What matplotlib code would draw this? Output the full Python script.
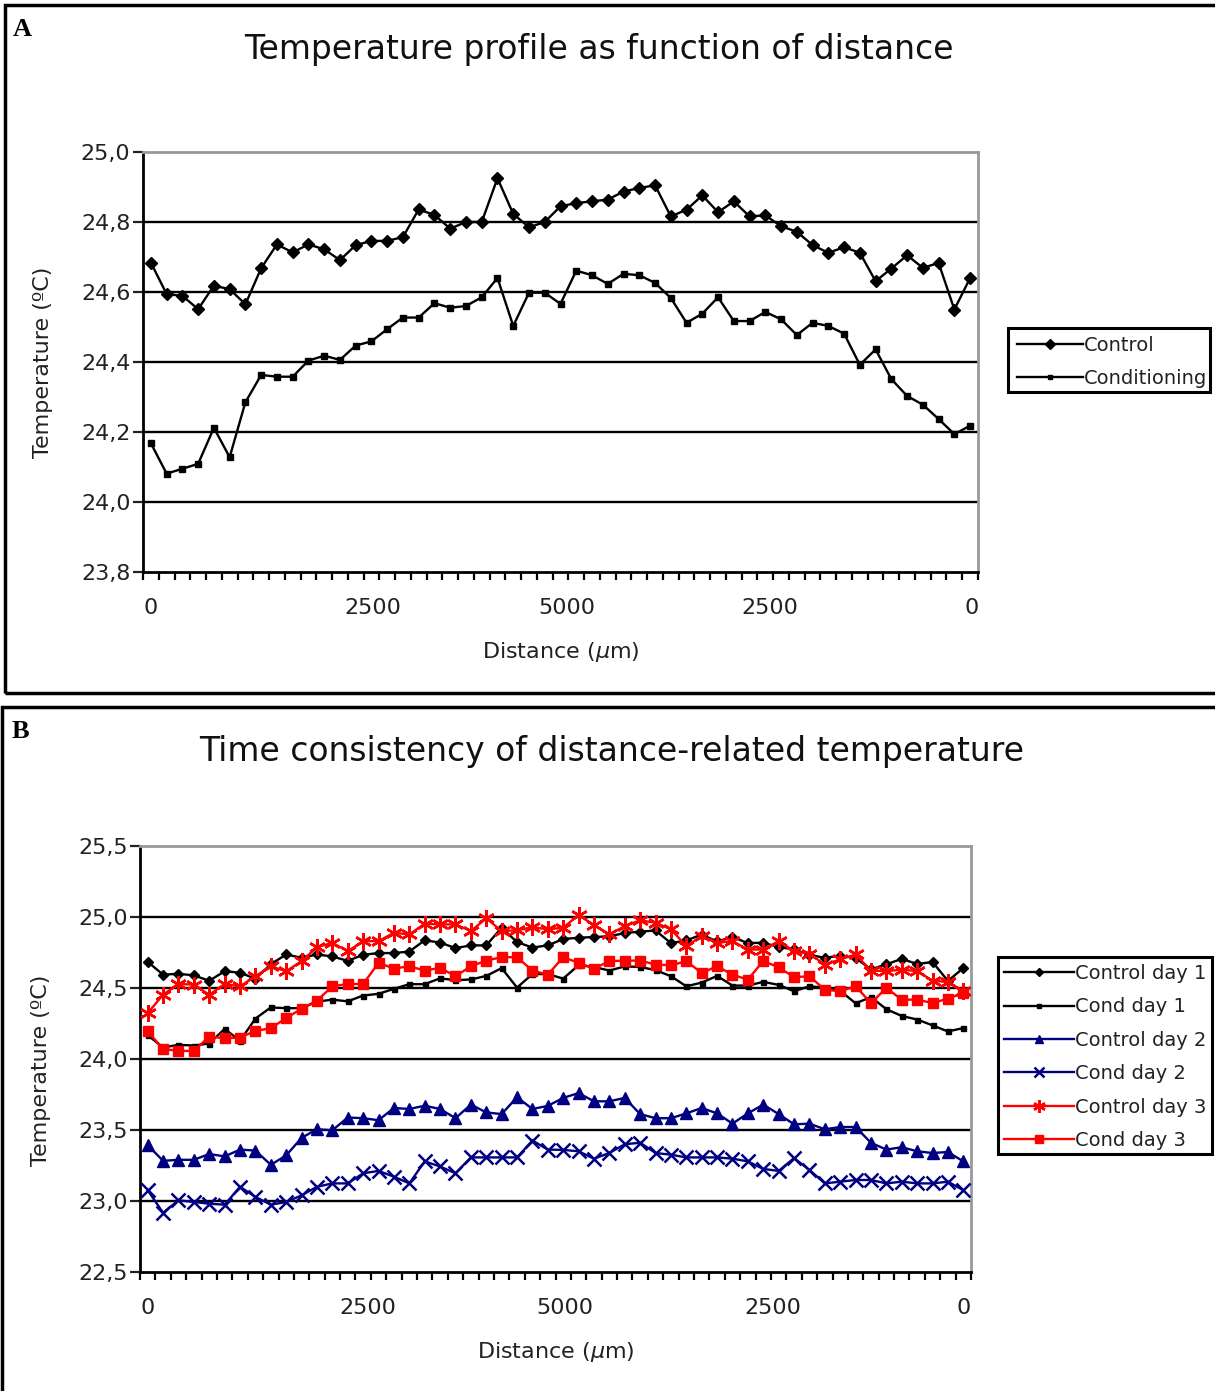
import numpy as np
import matplotlib
matplotlib.use("Agg")
import matplotlib.pyplot as plt
from matplotlib.patches import Rectangle

# ---------------- data ----------------
a_control = [24.684, 24.594, 24.589, 24.551, 24.618, 24.608, 24.565, 24.668, 24.736, 24.713,
             24.736, 24.722, 24.691, 24.734, 24.746, 24.746, 24.757, 24.836, 24.820, 24.781,
             24.800, 24.800, 24.925, 24.823, 24.785, 24.800, 24.845, 24.854, 24.859, 24.864,
             24.887, 24.897, 24.905, 24.816, 24.835, 24.876, 24.828, 24.859, 24.816, 24.819,
             24.788, 24.772, 24.734, 24.712, 24.728, 24.712, 24.631, 24.667, 24.705, 24.669,
             24.683, 24.550, 24.640]
a_cond = [24.168, 24.081, 24.095, 24.109, 24.212, 24.128, 24.285, 24.363, 24.358, 24.358,
          24.404, 24.418, 24.406, 24.447, 24.459, 24.494, 24.527, 24.527, 24.568, 24.555,
          24.560, 24.585, 24.640, 24.503, 24.598, 24.598, 24.566, 24.661, 24.648, 24.623,
          24.652, 24.648, 24.626, 24.583, 24.512, 24.538, 24.585, 24.517, 24.517, 24.543,
          24.522, 24.477, 24.512, 24.503, 24.481, 24.392, 24.436, 24.351, 24.303, 24.278,
          24.237, 24.194, 24.218]

b_control1 = [24.684, 24.594, 24.600, 24.589, 24.551, 24.618, 24.608, 24.565, 24.668, 24.736,
              24.713, 24.736, 24.722, 24.691, 24.734, 24.746, 24.746, 24.757, 24.836, 24.820,
              24.781, 24.800, 24.800, 24.925, 24.823, 24.785, 24.800, 24.845, 24.854, 24.859,
              24.864, 24.887, 24.897, 24.905, 24.816, 24.835, 24.876, 24.828, 24.859, 24.816,
              24.819, 24.788, 24.772, 24.734, 24.712, 24.728, 24.712, 24.631, 24.667, 24.705,
              24.669, 24.683, 24.550, 24.640]
b_cond1 = [24.168, 24.081, 24.100, 24.095, 24.109, 24.212, 24.128, 24.285, 24.363, 24.358,
           24.358, 24.404, 24.418, 24.406, 24.447, 24.459, 24.494, 24.527, 24.527, 24.568,
           24.555, 24.560, 24.585, 24.640, 24.503, 24.598, 24.598, 24.566, 24.661, 24.648,
           24.623, 24.652, 24.648, 24.626, 24.583, 24.512, 24.538, 24.585, 24.517, 24.517,
           24.543, 24.522, 24.477, 24.512, 24.503, 24.481, 24.392, 24.436, 24.351, 24.303,
           24.278, 24.237, 24.194, 24.218]
b_control2 = [23.393, 23.283, 23.290, 23.290, 23.331, 23.314, 23.362, 23.355, 23.255, 23.321,
              23.445, 23.505, 23.498, 23.588, 23.583, 23.569, 23.655, 23.648, 23.671, 23.648,
              23.583, 23.679, 23.624, 23.612, 23.731, 23.648, 23.670, 23.726, 23.760, 23.702,
              23.702, 23.726, 23.612, 23.583, 23.583, 23.617, 23.655, 23.617, 23.545, 23.617,
              23.679, 23.612, 23.540, 23.545, 23.505, 23.521, 23.521, 23.410, 23.362, 23.379,
              23.350, 23.338, 23.345, 23.279]
b_cond2 = [23.076, 22.917, 23.005, 22.993, 22.981, 22.974, 23.100, 23.029, 22.974, 22.993,
           23.040, 23.100, 23.124, 23.124, 23.195, 23.212, 23.171, 23.124, 23.279, 23.243,
           23.195, 23.307, 23.307, 23.307, 23.307, 23.426, 23.362, 23.360, 23.350, 23.298,
           23.338, 23.400, 23.410, 23.338, 23.326, 23.307, 23.307, 23.307, 23.298, 23.279,
           23.226, 23.212, 23.302, 23.219, 23.124, 23.136, 23.148, 23.148, 23.124, 23.136,
           23.124, 23.124, 23.136, 23.076]
b_control3 = [24.323, 24.453, 24.528, 24.524, 24.453, 24.528, 24.512, 24.583, 24.653, 24.618,
              24.689, 24.788, 24.818, 24.759, 24.830, 24.830, 24.889, 24.877, 24.953, 24.948,
              24.948, 24.901, 24.991, 24.901, 24.906, 24.929, 24.913, 24.925, 25.014, 24.943,
              24.877, 24.936, 24.976, 24.960, 24.913, 24.795, 24.866, 24.818, 24.830, 24.771,
              24.771, 24.830, 24.759, 24.741, 24.665, 24.701, 24.736, 24.623, 24.618, 24.630,
              24.618, 24.552, 24.542, 24.477]
b_cond3 = [24.194, 24.071, 24.057, 24.057, 24.158, 24.146, 24.151, 24.198, 24.217, 24.288,
           24.354, 24.411, 24.512, 24.528, 24.528, 24.677, 24.637, 24.653, 24.623, 24.642,
           24.583, 24.653, 24.693, 24.717, 24.717, 24.623, 24.594, 24.717, 24.677, 24.637,
           24.689, 24.693, 24.693, 24.665, 24.660, 24.689, 24.606, 24.653, 24.594, 24.559,
           24.690, 24.646, 24.576, 24.583, 24.488, 24.477, 24.512, 24.394, 24.500, 24.418,
           24.418, 24.394, 24.425, 24.465]

x_labels = ["0", "2500", "5000", "2500", "0"]
a_label_pos = [0.0, 14.1, 26.4, 39.3, 52.1]
b_label_pos = [0.0, 14.3, 27.1, 40.6, 53.0]
a_yticks = [23.8, 24.0, 24.2, 24.4, 24.6, 24.8, 25.0]
b_yticks = [22.5, 23.0, 23.5, 24.0, 24.5, 25.0, 25.5]
a_series_names = ["Control", "Conditioning"]
b_series_names = ["Control day 1", "Cond day 1", "Control day 2",
                  "Cond day 2", "Control day 3", "Cond day 3"]

# ---------------- figure ----------------
W, H = 1215, 1391
fig = plt.figure(figsize=(W / 100, H / 100), dpi=100)
plt.rcParams['font.family'] = ['DejaVu Sans']
TXT = "#222222"


def fx(px):
    return px / W


def fy(py):
    return 1 - py / H


def fmt(v):
    return f"{v:.1f}".replace(".", ",")


def style(ax, n, yticks, label_pos, xl_y, yl_x, yl_y):
    ax.set_xlim(-0.5, n - 0.5)
    ax.set_ylim(yticks[0], yticks[-1])
    ax.set_yticks(yticks)
    ax.set_yticklabels([fmt(v) for v in yticks])
    for y in yticks[1:-1]:
        ax.axhline(y, color="black", lw=1.7, zorder=1)
    ax.set_xticks(label_pos)
    ax.set_xticklabels(x_labels)
    ax.set_xticks(np.arange(-0.5, n), minor=True)
    ax.tick_params(axis="x", which="major", length=0, pad=19, labelsize=16, colors=TXT)
    ax.tick_params(axis="x", which="minor", length=6, width=1.6, direction="out")
    ax.tick_params(axis="y", which="major", length=7, width=1.6, direction="out",
                   labelsize=16, pad=2, colors=TXT)
    for s in ("left", "bottom"):
        ax.spines[s].set_color("black")
        ax.spines[s].set_linewidth(2)
    for s in ("top", "right"):
        ax.spines[s].set_color("#999999")
        ax.spines[s].set_linewidth(2)
    ax.set_xlabel(r"Distance ($\mu$m)", fontsize=16, color=TXT)
    ax.set_ylabel("Temperature (ºC)", fontsize=16, color=TXT)
    ax.xaxis.set_label_coords(0.5, xl_y)
    ax.yaxis.set_label_coords(yl_x, yl_y)


def boxed_legend(handles, names, x0, y_top, box, fs, hl, ls):
    leg = fig.legend(handles, names, loc="upper left", bbox_to_anchor=(fx(x0), fy(y_top)),
                     fontsize=fs, frameon=False, handlelength=hl, handletextpad=0.05,
                     labelspacing=ls, borderpad=0, borderaxespad=0, markerscale=0.75)
    for t in leg.get_texts():
        t.set_color(TXT)
    bx0, by0, bx1, by1 = box
    fig.add_artist(Rectangle((fx(bx0), fy(by1)), fx(bx1) - fx(bx0), fy(by0) - fy(by1),
                             transform=fig.transFigure, fill=False, lw=2.2,
                             edgecolor="black", zorder=5))
    return leg


# ---------------- panel A ----------------
axA = fig.add_axes([fx(143), fy(572), fx(978) - fx(143), fy(152) - fy(572)])
xa = np.arange(len(a_control))
lA1, = axA.plot(xa, a_control, color="black", lw=1.7, marker="D", ms=6.5, zorder=3)
lA2, = axA.plot(xa, a_cond, color="black", lw=1.7, marker="s", ms=3.8, zorder=3)
style(axA, len(a_control), a_yticks, a_label_pos, -0.162, -0.108, 0.5)
boxed_legend([lA1, lA2], a_series_names, 1017, 336, (1008, 328, 1210, 392), 14, 3.4, 0.7)

# ---------------- panel B ----------------
axB = fig.add_axes([fx(140), fy(1272), fx(971) - fx(140), fy(846) - fy(1272)])
xb = np.arange(len(b_control1))
navy = "#000080"
red = "#FF0000"
lines_b = []
lines_b += axB.plot(xb, b_control1, color="black", lw=1.7, marker="D", ms=5.5, zorder=3)
lines_b += axB.plot(xb, b_cond1, color="black", lw=1.7, marker="s", ms=3.6, zorder=3)
lines_b += axB.plot(xb, b_control2, color=navy, lw=1.7, marker="^", ms=8, zorder=3)
lines_b += axB.plot(xb, b_cond2, color=navy, lw=1.7, marker="x", ms=10, mew=1.8, zorder=3)
lines_b += axB.plot(xb, b_control3, color=red, lw=1.7, marker=(6, 2, 0), ms=12, mew=1.8, zorder=3)
lines_b += axB.plot(xb, b_cond3, color=red, lw=1.7, marker="s", ms=7, zorder=3)
style(axB, len(b_control1), b_yticks, b_label_pos, -0.16, -0.107, 0.474)
boxed_legend(lines_b, b_series_names, 1004, 964, (998, 957, 1212, 1154), 14, 3.6, 0.74)

# ---------------- titles, panel letters, frames ----------------
fig.text(fx(599), fy(50), "Temperature profile as function of distance",
         ha="center", va="center", fontsize=23.8, color="#111111")
fig.text(fx(612), fy(752), "Time consistency of distance-related temperature",
         ha="center", va="center", fontsize=23.8, color="#111111")
fig.text(fx(13), fy(30), "A", ha="left", va="center", fontsize=19,
         family="Liberation Serif", weight="bold")
fig.text(fx(12), fy(731), "B", ha="left", va="center", fontsize=19,
         family="Liberation Serif", weight="bold")

fig.add_artist(Rectangle((fx(5), fy(693)), fx(1240) - fx(5), fy(5) - fy(693),
                         transform=fig.transFigure, fill=False, lw=2.5, edgecolor="black"))
fig.add_artist(Rectangle((fx(2), fy(1420)), fx(1240) - fx(2), fy(707) - fy(1420),
                         transform=fig.transFigure, fill=False, lw=2.5, edgecolor="black"))

fig.savefig("out.png", dpi=100)
